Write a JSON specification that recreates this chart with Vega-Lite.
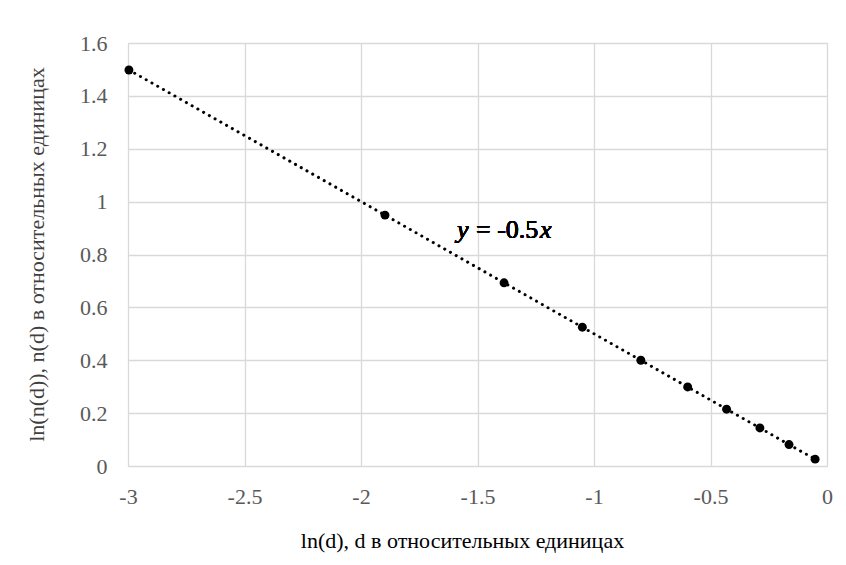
{
  "$schema": "https://vega.github.io/schema/vega-lite/v6.json",
  "width": 699,
  "height": 423,
  "autosize": {"type": "none"},
  "padding": {"left": 128, "top": 43, "right": 19, "bottom": 99},
  "background": "white",
  "config": {
    "view": {"stroke": "#d9d9d9", "strokeWidth": 1},
    "style": {"guide-label": {"font": "Liberation Serif"}, "guide-title": {"font": "Liberation Serif"}},
    "axis": {
      "labelFont": "Liberation Serif",
      "labelFontSize": 22,
      "labelColor": "#595959",
      "titleFont": "Liberation Serif",
      "titleFontSize": 22,
      "titleFontWeight": "normal",
      "titleColor": "#000000",
      "gridColor": "#d9d9d9",
      "gridWidth": 1.3,
      "domain": false,
      "ticks": false,
      "tickSize": 0
    }
  },
  "data": {
    "values": [
      {"lnd": -2.996, "lnn": 1.498},
      {"lnd": -1.897, "lnn": 0.949},
      {"lnd": -1.386, "lnn": 0.693},
      {"lnd": -1.050, "lnn": 0.525},
      {"lnd": -0.799, "lnn": 0.400},
      {"lnd": -0.598, "lnn": 0.299},
      {"lnd": -0.431, "lnn": 0.215},
      {"lnd": -0.288, "lnn": 0.144},
      {"lnd": -0.163, "lnn": 0.081},
      {"lnd": -0.051, "lnn": 0.026}
    ]
  },
  "encoding": {
    "x": {
      "field": "lnd", "type": "quantitative",
      "scale": {"domain": [-3, 0], "nice": false, "zero": false},
      "axis": {
        "values": [-3, -2.5, -2, -1.5, -1, -0.5, 0],
        "labelExpr": "'' + datum.value",
        "labelPadding": 20,
        "labelFlush": false,
        "title": "ln(d), d в относительных единицах",
        "titleX": 334,
        "titleY": 74,
        "titleBaseline": "middle"
      }
    },
    "y": {
      "field": "lnn", "type": "quantitative",
      "scale": {"domain": [0, 1.6], "nice": false},
      "axis": {
        "values": [0, 0.2, 0.4, 0.6, 0.8, 1, 1.2, 1.4, 1.6],
        "labelExpr": "'' + datum.value",
        "labelPadding": 21,
        "labelFlush": false,
        "title": "ln(n(d)), n(d) в относительных единицах",
        "titleColor": "#404040",
        "titleAngle": -90,
        "titleX": -92,
        "titleY": 211,
        "titleAlign": "center",
        "titleBaseline": "middle"
      }
    }
  },
  "layer": [
    {
      "mark": {"type": "line", "color": "black", "strokeWidth": 3, "strokeCap": "round", "strokeDash": [0.1, 6.5]}
    },
    {
      "mark": {"type": "point", "filled": true, "color": "black", "opacity": 1, "size": 80}
    },
    {
      "mark": {"type": "text", "font": "Liberation Serif", "fontSize": 26, "fontStyle": "italic", "align": "left", "baseline": "middle", "color": "black"},
      "encoding": {"x": {"datum": -1.588}, "y": {"datum": 0.893}, "text": {"value": "y"}}
    },
    {
      "mark": {"type": "text", "font": "Liberation Serif", "fontSize": 26, "align": "left", "baseline": "middle", "dx": 19, "color": "black"},
      "encoding": {"x": {"datum": -1.588}, "y": {"datum": 0.893}, "text": {"value": "= -0.5"}}
    },
    {
      "mark": {"type": "text", "font": "Liberation Serif", "fontSize": 26, "fontStyle": "italic", "align": "left", "baseline": "middle", "dx": 83, "color": "black"},
      "encoding": {"x": {"datum": -1.588}, "y": {"datum": 0.893}, "text": {"value": "x"}}
    }
  ]
}
